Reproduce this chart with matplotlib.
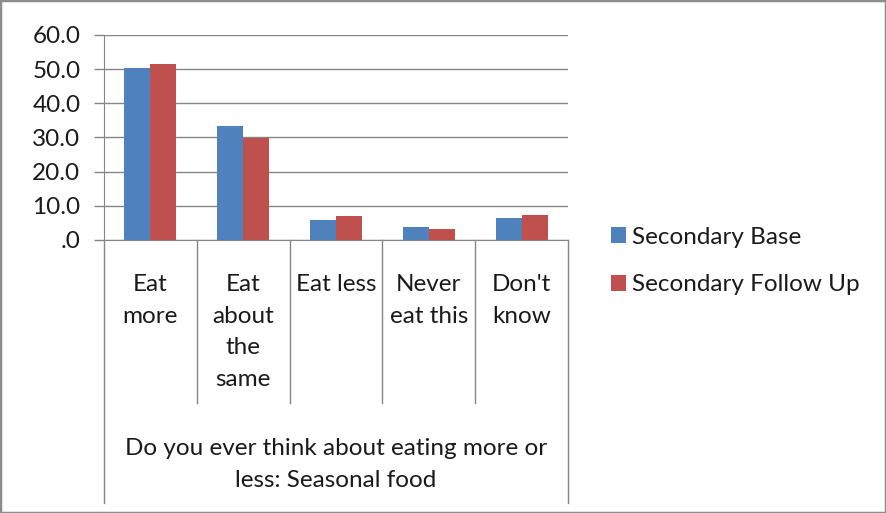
import matplotlib
matplotlib.use("Agg")
import matplotlib.pyplot as plt
import matplotlib.transforms as mtransforms
from matplotlib.patches import Patch, Rectangle
import numpy as np

categories = ["Eat\nmore", "Eat\nabout\nthe\nsame", "Eat less", "Never\neat this", "Don't\nknow"]
base = [50.2, 33.3, 5.9, 3.7, 6.3]
follow_up = [51.4, 29.9, 7.0, 3.3, 7.4]
series_names = ["Secondary Base", "Secondary Follow Up"]
yticks = [0, 10, 20, 30, 40, 50, 60]
ytick_labels = [".0", "10.0", "20.0", "30.0", "40.0", "50.0", "60.0"]
group_title = "Do you ever think about eating more or\nless: Seasonal food"

BLUE = "#4F81BD"
RED = "#C0504D"
GRID = "#868686"
TXT = "#1a1a1a"
FS = 17.5

plt.rcParams['font.family'] = ['Lato', 'DejaVu Sans']

W, H = 886, 513
fig = plt.figure(figsize=(W / 100, H / 100), dpi=100)
fig.patches.append(Rectangle((0, 0), 1, 1, transform=fig.transFigure, fill=False,
                             edgecolor="#8c8c8c", linewidth=2.5))

left, right, top, bottom = 104, 568, 35, 240
ax = fig.add_axes([left / W, 1 - bottom / H, (right - left) / W, (bottom - top) / H])
n = len(categories)
x = np.arange(n) + 0.5
bw = 0.28
ax.bar(x - bw / 2, base, width=bw, color=BLUE, zorder=3)
ax.bar(x + bw / 2, follow_up, width=bw, color=RED, zorder=3)
ax.set_xlim(0, n)
ax.set_ylim(0, 60)
ax.set_yticks(yticks)
ax.set_yticklabels(ytick_labels, fontsize=FS, color=TXT)
ax.set_xticks([])
ax.yaxis.grid(True, color=GRID, linewidth=1)
ax.tick_params(axis='y', length=7, width=1, color=GRID, pad=10)
for s in ["top", "right"]:
    ax.spines[s].set_visible(False)
ax.spines["left"].set_color(GRID)
ax.spines["bottom"].set_color(GRID)

trans = mtransforms.blended_transform_factory(ax.transData, ax.transAxes)
axh = bottom - top
sep_bottom = -(403 - bottom) / axh
outer_bottom = -(503 - bottom) / axh
for i in range(1, n):
    ax.plot([i, i], [0, sep_bottom], transform=trans, color=GRID, lw=1, clip_on=False)
ax.plot([0, 0], [0, outer_bottom], transform=trans, color=GRID, lw=1, clip_on=False)
ax.plot([n, n], [0, outer_bottom], transform=trans, color=GRID, lw=1, clip_on=False)

lab_top = -(274 - bottom) / axh
for xi, lab in zip(x, categories):
    ax.text(xi, lab_top, lab, transform=trans, ha='center', va='top', fontsize=FS,
            color=TXT, linespacing=1.62)
title_top = -(438 - bottom) / axh
ax.text(n / 2, title_top, group_title, transform=trans, ha='center', va='top',
        fontsize=FS, color=TXT, linespacing=1.62)

handles = [Patch(facecolor=BLUE), Patch(facecolor=RED)]
fig.legend(handles, series_names, loc='center left', bbox_to_anchor=(611 / W, 1 - 261 / H),
           frameon=False, fontsize=FS, handlelength=0.6, handleheight=0.6,
           handletextpad=0.25, labelspacing=1.11, borderaxespad=0, borderpad=0,
           labelcolor=TXT)

fig.savefig("out.png", dpi=100)
